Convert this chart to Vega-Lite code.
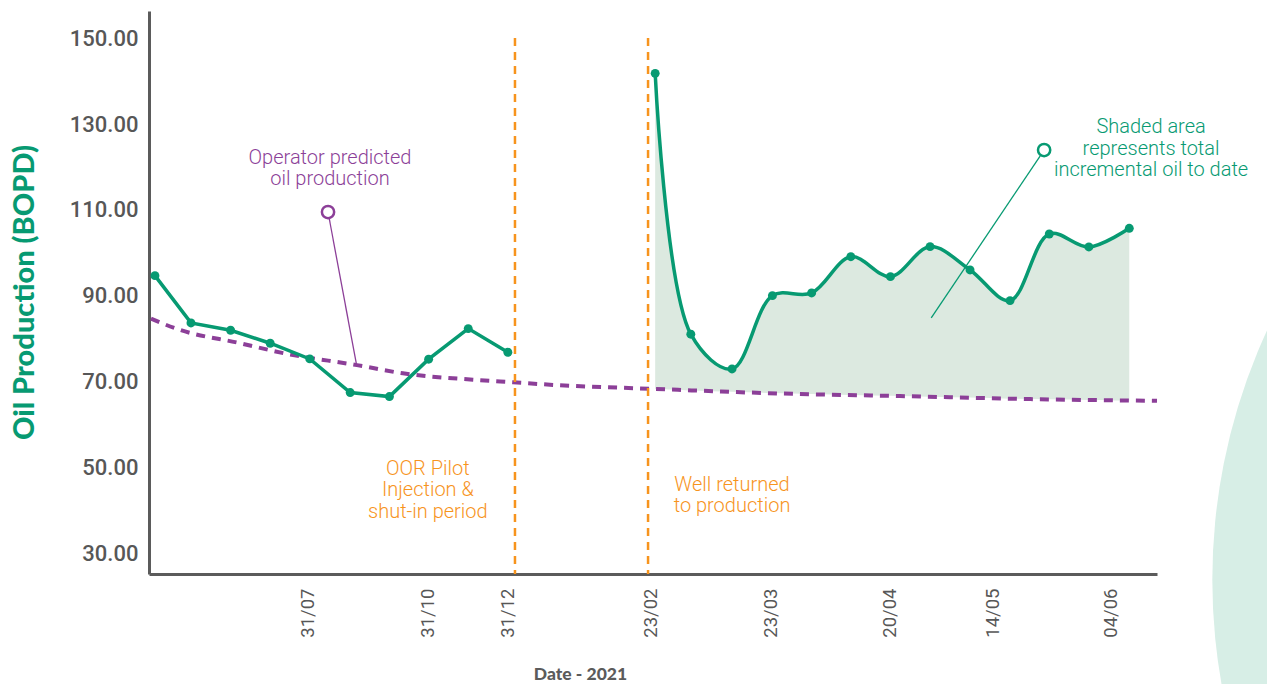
{
  "$schema": "https://vega.github.io/schema/vega-lite/v6.json",
  "width": 1008,
  "height": 563,
  "autosize": "none",
  "padding": {"left": 149, "top": 11, "right": 110, "bottom": 110},
  "background": "#ffffff",
  "config": {"view": {"stroke": null}},
  "datasets": {
    "production": [
      {"period": "pre", "idx": 0.09, "oil": 94.72},
      {"period": "pre", "idx": 1.0, "oil": 83.72},
      {"period": "pre", "idx": 2.0, "oil": 82.02},
      {"period": "pre", "idx": 3.0, "oil": 79.0},
      {"period": "pre", "idx": 4.0, "oil": 75.35},
      {"period": "pre", "idx": 5.02, "oil": 67.51},
      {"period": "pre", "idx": 6.01, "oil": 66.58},
      {"period": "pre", "idx": 7.0, "oil": 75.28},
      {"period": "pre", "idx": 8.0, "oil": 82.4},
      {"period": "pre", "idx": 9.0, "oil": 76.9},
      {"period": "post", "idx": 12.72, "oil": 141.79, "pred": 68.35},
      {"period": "post", "idx": 13.62, "oil": 81.1, "pred": 68.0},
      {"period": "post", "idx": 14.66, "oil": 73.02, "pred": 67.7},
      {"period": "post", "idx": 15.68, "oil": 90.07, "pred": 67.4},
      {"period": "post", "idx": 16.67, "oil": 90.7, "pred": 67.2},
      {"period": "post", "idx": 17.66, "oil": 99.14, "pred": 66.95},
      {"period": "post", "idx": 18.66, "oil": 94.49, "pred": 66.75},
      {"period": "post", "idx": 19.66, "oil": 101.47, "pred": 66.55},
      {"period": "post", "idx": 20.67, "oil": 96.05, "pred": 66.35},
      {"period": "post", "idx": 21.68, "oil": 88.91, "pred": 66.1},
      {"period": "post", "idx": 22.67, "oil": 104.42, "pred": 65.95},
      {"period": "post", "idx": 23.67, "oil": 101.4, "pred": 65.8},
      {"period": "post", "idx": 24.69, "oil": 105.74, "pred": 65.65}
    ],
    "predicted": [
      {"idx": -0.01, "pred": 84.7},
      {"idx": 0.72, "pred": 82.1},
      {"idx": 2.24, "pred": 79.0},
      {"idx": 3.33, "pred": 76.7},
      {"idx": 5.19, "pred": 73.9},
      {"idx": 6.35, "pred": 72.0},
      {"idx": 8.12, "pred": 70.5},
      {"idx": 9.13, "pred": 69.9},
      {"idx": 10.14, "pred": 69.3},
      {"idx": 12.59, "pred": 68.4},
      {"idx": 15.87, "pred": 67.3},
      {"idx": 18.9, "pred": 66.7},
      {"idx": 22.19, "pred": 66.0},
      {"idx": 25.39, "pred": 65.6}
    ],
    "events": [
      {"idx": 9.18, "top": 150, "bottom": 25.3},
      {"idx": 12.54, "top": 150, "bottom": 25.3}
    ],
    "leaders": [
      {"who": "operator", "x1": 4.46, "y1": 109.53, "x2": 5.19, "y2": 73.49},
      {"who": "shaded", "x1": 22.54, "y1": 123.95, "x2": 19.69, "y2": 84.88}
    ],
    "notes": [
      {"who": "operator", "idx": 4.51, "val": 122.1, "lines": ["Operator predicted", "oil production"]},
      {"who": "shaded", "idx": 25.24, "val": 129.3, "lines": ["Shaded area", "represents total", "incremental oil to date"]},
      {"who": "pilot", "idx": 6.98, "val": 49.77, "lines": ["OOR Pilot", "Injection &", "shut-in period"]},
      {"who": "returned", "idx": 14.66, "val": 46.05, "lines": ["Well returned", "to production"]}
    ],
    "decor": [
      {"idx": 41.83, "val": 23.95}
    ]
  },
  "encoding": {
    "x": {
      "field": "idx",
      "type": "quantitative",
      "scale": {"domain": [-0.06, 25.39], "nice": false, "zero": false},
      "axis": {
        "title": "Date - 2021",
        "values": [3.95, 6.96, 8.98, 12.59, 15.62, 18.63, 21.23, 24.21],
        "labelExpr": "datum.value < 5 ? '31/07' : datum.value < 8 ? '31/10' : datum.value < 10 ? '31/12' : datum.value < 14 ? '23/02' : datum.value < 17 ? '23/03' : datum.value < 20 ? '20/04' : datum.value < 23 ? '14/05' : '04/06'",
        "labelAngle": -90,
        "labelAlign": "right",
        "labelBaseline": "middle",
        "labelPadding": 14,
        "labelFont": "Roboto",
        "labelFontSize": 18.5,
        "labelColor": "#575757",
        "labelFlush": false,
        "labelOverlap": false,
        "ticks": false,
        "grid": false,
        "domainColor": "#5b5b5b",
        "domainWidth": 3,
        "titleFont": "Lato",
        "titleFontWeight": 900,
        "titleFontSize": 17.5,
        "titleColor": "#5b5b5b",
        "titleX": 431,
        "titleY": 100,
        "titleAlign": "center",
        "titleBaseline": "middle"
      }
    },
    "y": {
      "type": "quantitative",
      "scale": {"domain": [25.3, 156.3], "nice": false, "zero": false},
      "axis": {
        "title": "Oil Production (BOPD)",
        "values": [30, 50, 70, 90, 110, 130, 150],
        "format": ".2f",
        "labelFont": "Roboto",
        "labelFontSize": 22,
        "labelFontWeight": 500,
        "labelColor": "#575757",
        "labelPadding": 11,
        "ticks": false,
        "grid": false,
        "domainColor": "#5b5b5b",
        "domainWidth": 3,
        "titleFont": "Lato",
        "titleFontWeight": 900,
        "titleFontSize": 29,
        "titleColor": "#079a72",
        "titleX": -125,
        "titleY": 281,
        "titleAngle": -90,
        "titleAlign": "center",
        "titleBaseline": "middle"
      }
    }
  },
  "layer": [
    {
      "data": {"name": "decor"},
      "mark": {"type": "point", "shape": "circle", "filled": true, "size": 1420000, "color": "#d7eee6", "opacity": 1, "clip": false},
      "encoding": {"y": {"field": "val"}}
    },
    {
      "data": {"name": "production"},
      "transform": [{"filter": "datum.period === 'post'"}],
      "mark": {"type": "area", "interpolate": "catmull-rom", "color": "#dce9e0", "opacity": 1},
      "encoding": {
        "y": {"field": "oil"},
        "y2": {"field": "pred"}
      }
    },
    {
      "data": {"name": "predicted"},
      "mark": {"type": "line", "interpolate": "monotone", "color": "#8c3f98", "strokeWidth": 4, "strokeDash": [9, 7]},
      "encoding": {"y": {"field": "pred"}}
    },
    {
      "data": {"name": "events"},
      "mark": {"type": "rule", "color": "#f7941d", "strokeWidth": 2.5, "strokeDash": [8, 6]},
      "encoding": {"y": {"field": "top"}, "y2": {"field": "bottom"}}
    },
    {
      "data": {"name": "production"},
      "transform": [{"filter": "datum.period === 'pre'"}],
      "mark": {"type": "line", "interpolate": "linear", "color": "#079a72", "strokeWidth": 3.5},
      "encoding": {"y": {"field": "oil"}}
    },
    {
      "data": {"name": "production"},
      "transform": [{"filter": "datum.period === 'post'"}],
      "mark": {"type": "line", "interpolate": "catmull-rom", "color": "#079a72", "strokeWidth": 3.5},
      "encoding": {"y": {"field": "oil"}}
    },
    {
      "data": {"name": "production"},
      "mark": {"type": "point", "shape": "circle", "filled": true, "size": 80, "color": "#079a72", "opacity": 1},
      "encoding": {"y": {"field": "oil"}}
    },
    {
      "data": {"name": "leaders"},
      "mark": {"type": "rule", "strokeWidth": 1.3},
      "encoding": {
        "x": {"field": "x1"},
        "y": {"field": "y1"},
        "x2": {"field": "x2"},
        "y2": {"field": "y2"},
        "color": {"field": "who", "type": "nominal", "scale": {"domain": ["operator", "shaded", "pilot", "returned"], "range": ["#8c3f98", "#079a72", "#f7941d", "#f7941d"]}, "legend": null}
      }
    },
    {
      "data": {"name": "leaders"},
      "mark": {"type": "point", "shape": "circle", "filled": false, "fill": "#ffffff", "size": 150, "strokeWidth": 2.5, "opacity": 1},
      "encoding": {
        "x": {"field": "x1"},
        "y": {"field": "y1"},
        "stroke": {"field": "who", "type": "nominal", "scale": {"domain": ["operator", "shaded", "pilot", "returned"], "range": ["#8c3f98", "#079a72", "#f7941d", "#f7941d"]}, "legend": null}
      }
    },
    {
      "data": {"name": "notes"},
      "mark": {"type": "text", "font": "Roboto", "fontWeight": 300, "fontSize": 20, "lineHeight": 21.5, "align": "center", "baseline": "middle"},
      "encoding": {
        "y": {"field": "val"},
        "text": {"field": "lines"},
        "color": {"field": "who", "type": "nominal", "scale": {"domain": ["operator", "shaded", "pilot", "returned"], "range": ["#8c3f98", "#079a72", "#f7941d", "#f7941d"]}, "legend": null}
      }
    }
  ]
}
